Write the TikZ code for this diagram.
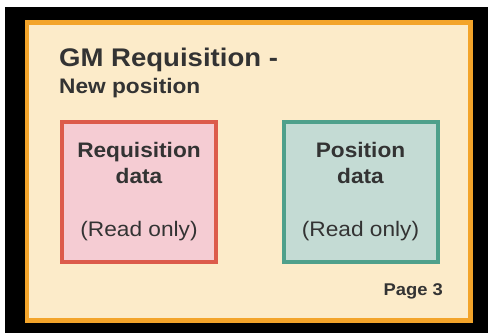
\documentclass[tikz,border=0pt]{standalone}
\usepackage{fontspec}
\setmainfont{Liberation Sans}
\usepackage{xcolor}
\usetikzlibrary{positioning}

\definecolor{frameorange}{HTML}{F3A42A}
\definecolor{papercream}{HTML}{FCEBC9}
\definecolor{reqline}{HTML}{DC5B4B}
\definecolor{reqfill}{HTML}{F5CCD3}
\definecolor{posline}{HTML}{4FA08B}
\definecolor{posfill}{HTML}{C4DBD4}
\definecolor{inkgray}{HTML}{333333}

\begin{document}
\begin{tikzpicture}[x=1pt, y=-1pt,
    txt/.style={inner sep=0pt, text=inkgray, xscale=1.08},
    databox/.style={draw, line width=4pt, minimum width=154pt, minimum height=140pt, inner sep=0pt}]
    \useasboundingbox (0,0) rectangle (488,333);

    % background and page frame
    \fill[black] (5,7) rectangle (488,333);
    \draw[line width=4.8pt, frameorange, fill=papercream] (27,22.5) rectangle (470.6,320.3);

    % heading
    \node[txt, anchor=base west, font=\fontsize{25.5}{30}\selectfont\bfseries] (title) at (59,66.5) {GM Requisition -};
    \node[txt, anchor=base west, font=\fontsize{21}{25}\selectfont\bfseries] (subtitle) at (59,93.3) {New position};

    % the two data boxes
    \node[databox, reqline, fill=reqfill] (req) at (139,191.5) {};
    \node[databox, posline, fill=posfill] (pos) at (360.5,191.5) {};

    \node[txt, anchor=base, font=\fontsize{21}{25}\selectfont\bfseries] (reqname) at (139,157) {Requisition};
    \node[txt, anchor=base, font=\fontsize{21}{25}\selectfont\bfseries] (reqdata) at (139,183.3) {data};
    \node[txt, anchor=base, font=\fontsize{21}{25}\selectfont] (reqro) at (139,236.7) {(Read only)};

    \node[txt, anchor=base, font=\fontsize{21}{25}\selectfont\bfseries] (posname) at (360.5,157.3) {Position};
    \node[txt, anchor=base, font=\fontsize{21}{25}\selectfont\bfseries] (posdata) at (360.5,183.3) {data};
    \node[txt, anchor=base, font=\fontsize{21}{25}\selectfont] (posro) at (360.5,236.7) {(Read only)};

    % page number
    \node[txt, anchor=base east, font=\fontsize{17}{20}\selectfont\bfseries] (pagenum) at (443,295.7) {Page 3};
\end{tikzpicture}
\end{document}
